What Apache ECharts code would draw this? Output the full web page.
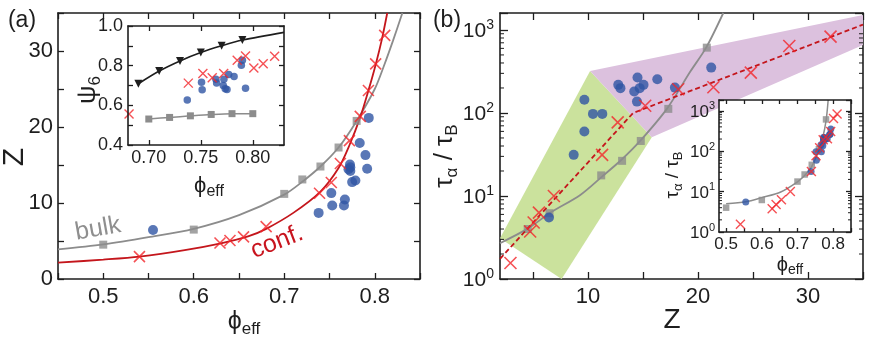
<!DOCTYPE html>
<html>
<head>
<meta charset="utf-8">
<script src="https://cdn.jsdelivr.net/npm/echarts@6/dist/echarts.min.js"></script>
<style>
  html, body { margin: 0; padding: 0; background: #fff; }
  #chart { width: 872px; height: 343px; }
</style>
</head>
<body>
<div id="chart"></div>
<script>
// ---- data ----
// bulk samples (grey squares)
var bulkPhi = [0.50, 0.60, 0.70, 0.72, 0.74, 0.76, 0.78];
var bulkZ = [4.52, 6.5, 11.2, 13.1, 14.8, 17.3, 20.8];
var bulkTau = [4.0, 6.2, 17.7, 26.5, 46, 112, 612];

// confined samples (red crosses)
var confPhi = [0.540, 0.629, 0.640, 0.655, 0.680, 0.739, 0.752, 0.762, 0.772, 0.784, 0.793, 0.801, 0.811];
var confZ = [2.95, 4.74, 5.06, 5.54, 6.9, 11.28, 12.7, 15.2, 18.2, 21.4, 24.8, 28.3, 32.05];
var confTau = [1.56, 3.74, 4.8, 6.3, 10, 31.3, 77, 122, 193, 204, 306, 641, 830];

// blue circles
var samplePhi = [0.555, 0.738, 0.753, 0.766, 0.767, 0.752, 0.7786, 0.775, 0.773, 0.7916, 0.771, 0.773, 0.7726, 0.7897, 0.7834, 0.7934];
var sampleZ = [6.45, 8.7, 9.67, 9.67, 10.45, 11.3, 12.95, 12.75, 14.2, 14.5, 14.45, 14.7, 15.05, 16.3, 17.9, 21.2];
var sampleTau = [5.5, 31.3, 59.7, 144, 97.5, 97.5, 199, 218, 181, 267, 137, 199, 218, 255, 202, 352];

// fitted curves, panel (a)
var bulkFitPhi = [0.45, 0.50, 0.55, 0.60, 0.65, 0.70, 0.72, 0.74, 0.76, 0.78, 0.80, 0.81, 0.82, 0.8305];
var bulkFitZ = [3.9, 4.55, 5.5, 6.6, 8.4, 11.1, 12.8, 14.8, 17.3, 20.8, 25.0, 28.0, 31.3, 35.0];
var confFitPhi = [0.45, 0.50, 0.54, 0.59, 0.63, 0.66, 0.68, 0.71, 0.74, 0.76, 0.772, 0.784, 0.793, 0.801, 0.808, 0.8138];
var confFitZ = [2.15, 2.55, 2.95, 3.8, 4.7, 5.6, 6.6, 8.7, 11.5, 14.6, 17.6, 21.3, 24.8, 28.2, 31.6, 35.0];

// inset (a): psi_6
var psiTriPhi = [0.69, 0.71, 0.73, 0.75, 0.77, 0.79, 0.83];
var psiTri = [0.709, 0.773, 0.824, 0.866, 0.900, 0.929, 0.968];
var psiBulkPhi = [0.70, 0.72, 0.74, 0.76, 0.78, 0.80];
var psiBulk = [0.531, 0.539, 0.547, 0.554, 0.558, 0.558];
var psiConfPhi = [0.681, 0.738, 0.752, 0.761, 0.772, 0.785, 0.793, 0.801, 0.810, 0.821];
var psiConf = [0.556, 0.712, 0.760, 0.739, 0.760, 0.827, 0.849, 0.788, 0.810, 0.847];
var psiSamplePhi = [0.737, 0.7507, 0.7513, 0.7645, 0.7652, 0.7722, 0.7716, 0.7735, 0.7752, 0.7768, 0.782, 0.789, 0.790, 0.793];
var psiSample = [0.627, 0.717, 0.678, 0.731, 0.712, 0.731, 0.700, 0.683, 0.680, 0.756, 0.746, 0.802, 0.827, 0.686];

// panel (b) curves
var bulkTauFitZ = [2, 4.6, 6.5, 9.3, 11.25, 13.07, 14.74, 17.17, 19.3, 20.74, 22.3];
var bulkTauFitTau = [2.7, 4.1, 6.2, 10.3, 17.0, 27.5, 46, 112, 315, 612, 1600];
var confTauFitZ = [2, 14.1, 35];
var confTauFitTau = [1.75, 100, 1160];
var greenBandZ = [2, 7.6, 15.8, 10.19];
var greenBandTau = [3.1, 1, 51, 321];
var purpleBandZ = [10.19, 35, 35, 15.8];
var purpleBandTau = [321, 1510, 660, 51];

// inset (b) curve
var bulkTauFitPhi = [0.5, 0.555, 0.6, 0.653, 0.7, 0.72, 0.74, 0.76, 0.77, 0.78, 0.786];
var bulkTauFitPhiTau = [5.0, 5.6, 7.1, 9.8, 17.5, 25, 42, 105, 200, 560, 1850];

// axes
var aXTicks = [0.45, 0.50, 0.55, 0.60, 0.65, 0.70, 0.75, 0.80, 0.85];
var aXLabels = [0.5, 0.6, 0.7, 0.8];
var aYTicks = [0, 5, 10, 15, 20, 25, 30, 35];
var aYLabels = [0, 10, 20, 30];
var inAXTicks = [0.70, 0.75, 0.80];
var inAYTicks = [0.4, 0.5, 0.6, 0.7, 0.8, 0.9, 1.0];
var inAYLabels = [0.4, 0.6, 0.8, 1.0];
var bXTicks = [5, 10, 15, 20, 25, 30, 35];
var bXLabels = [10, 20, 30];
var inBXTicks = [0.5, 0.55, 0.6, 0.65, 0.7, 0.75, 0.8, 0.85];
var inBXLabels = [0.5, 0.6, 0.7, 0.8];
var minorLogTicks = [2, 3, 4, 5, 6, 7, 8, 9, 20, 30, 40, 50, 60, 70, 80, 90, 200, 300, 400, 500, 600, 700, 800, 900];

var FONT = 'Liberation Sans';
var INK = '#1e1e1e';
var GRAY = '#8c8c8c';
var RED = '#f2262a';
var DARKRED = '#c4161c';
var BLUE = '#2f55a4';
var CROSS = 'path://M0,0L10,10M10,0L0,10';

function zip(a, b) {
    return a.map(function (v, i) { return [v, b[i]]; });
}

function supLabel(v) {
    var e = Math.log10(v);
    var r = Math.round(e);
    if (Math.abs(e - r) > 1e-6) return '';
    return '{b|10}{s|' + r + '}';
}

function supRich(size) {
    return {
        b: { fontSize: size, fontFamily: FONT, color: INK, lineHeight: size + 3, verticalAlign: 'bottom' },
        s: { fontSize: Math.round(size * 0.66), fontFamily: FONT, color: INK, lineHeight: Math.round(size * 0.66), verticalAlign: 'top' }
    };
}

function makeAxis(grid, pos, o) {
    var main = pos === 'bottom' || pos === 'left';
    return {
        type: o.log ? 'log' : 'value',
        logBase: 10,
        gridIndex: grid,
        position: pos,
        min: o.min,
        max: o.max,
        z: o.z || 0,
        axisLine: { show: true, onZero: false, lineStyle: { color: INK, width: 1.6 } },
        axisTick: { show: true, inside: true, length: o.tick, customValues: o.ticks, lineStyle: { color: INK, width: 1.3 } },
        axisLabel: {
            show: main, customValues: o.labels, margin: o.margin, color: INK,
            fontSize: o.font, fontFamily: FONT, formatter: o.fmt, rich: o.rich
        },
        splitLine: { show: false }
    };
}

function minorTicks(xi, yi, xRange, len, z) {
    return {
        type: 'custom', xAxisIndex: xi, yAxisIndex: yi, silent: true, z: z,
        data: minorLogTicks.map(function (v) { return [xRange[0], v]; }),
        renderItem: function (params, api) {
            var v = api.value(1);
            var l = api.coord([xRange[0], v]);
            var r = api.coord([xRange[1], v]);
            var st = { stroke: INK, lineWidth: 1 };
            return {
                type: 'group', children: [
                    { type: 'line', shape: { x1: l[0], y1: l[1], x2: l[0] + len, y2: l[1] }, style: st },
                    { type: 'line', shape: { x1: r[0] - len, y1: r[1], x2: r[0], y2: r[1] }, style: st }
                ]
            };
        }
    };
}

function band(zs, taus, color) {
    return {
        type: 'custom', xAxisIndex: 4, yAxisIndex: 4, silent: true, z: 1,
        data: [[zs[0], taus[0]]],
        renderItem: function (params, api) {
            var pts = zs.map(function (z, i) { return api.coord([z, taus[i]]); });
            return { type: 'polygon', shape: { points: pts }, style: { fill: color } };
        }
    };
}

function lineSeries(xi, data, color, width, z, extra) {
    var s = {
        type: 'line', xAxisIndex: xi, yAxisIndex: xi, data: data, symbol: 'none',
        smooth: 0.3, z: z, silent: true,
        lineStyle: { color: color, width: width }
    };
    return Object.assign(s, extra || {});
}

function scatter(xi, data, symbol, size, color, z, stroke) {
    return {
        type: 'scatter', xAxisIndex: xi, yAxisIndex: xi, data: data, symbol: symbol,
        symbolSize: size, z: z, silent: true,
        itemStyle: stroke ? { color: 'rgba(0,0,0,0)', borderColor: color, borderWidth: stroke } : { color: color }
    };
}

// titles made of pieces [text, size, dy], centred on (x, y)
var ctx2d = document.createElement('canvas').getContext('2d');
function textW(s, size) {
    ctx2d.font = size + 'px "' + FONT + '"';
    return ctx2d.measureText(s).width;
}
function title(x, y, pieces, color, angle) {
    var total = 0;
    pieces.forEach(function (p) { total += textW(p[0], p[1]); });
    var cx = -total / 2;
    var kids = pieces.map(function (p) {
        var el = {
            type: 'text', x: cx, y: p[2],
            style: { text: p[0], fontSize: p[1], fontFamily: FONT, fill: color, align: 'left', verticalAlign: 'middle' }
        };
        cx += textW(p[0], p[1]);
        return el;
    });
    return { type: 'group', x: x, y: y, rotation: (angle || 0) * Math.PI / 180, children: kids, z: 50 };
}

var chart = echarts.init(document.getElementById('chart'));

var f1 = function (v) { return v.toFixed(1); };
var f2 = function (v) { return v.toFixed(2); };
var f0 = function (v) { return String(Math.round(v)); };

var option = {
    animation: false,
    backgroundColor: '#fff',
    textStyle: { fontFamily: FONT },
    grid: [
        { left: 58, top: 13, width: 362, height: 266, containLabel: false, outerBoundsMode: 'none' },
        { left: 128, top: 26, width: 156, height: 119, containLabel: false, outerBoundsMode: 'none', show: true, backgroundColor: '#fff', borderWidth: 0, z: 10 },
        { left: 500, top: 13, width: 363, height: 266, containLabel: false, outerBoundsMode: 'none' },
        { left: 719, top: 100, width: 132, height: 132, containLabel: false, outerBoundsMode: 'none', show: true, backgroundColor: '#fff', borderWidth: 0, z: 10 }
    ],
    xAxis: [
        makeAxis(0, 'bottom', { min: 0.45, max: 0.85, tick: 6, ticks: aXTicks, labels: aXLabels, margin: 7, font: 22, fmt: f1 }),
        makeAxis(0, 'top', { min: 0.45, max: 0.85, tick: 6, ticks: aXTicks }),
        makeAxis(1, 'bottom', { min: 0.68, max: 0.83, tick: 5, ticks: inAXTicks, labels: inAXTicks, margin: 4, font: 18, fmt: f2, z: 15 }),
        makeAxis(1, 'top', { min: 0.68, max: 0.83, tick: 5, ticks: inAXTicks, z: 15 }),
        makeAxis(2, 'bottom', { min: 2, max: 35, tick: 7, ticks: bXTicks, labels: bXLabels, margin: 7, font: 22, fmt: f0 }),
        makeAxis(2, 'top', { min: 2, max: 35, tick: 7, ticks: bXTicks }),
        makeAxis(3, 'bottom', { min: 0.48, max: 0.85, tick: 4, ticks: inBXTicks, labels: inBXLabels, margin: 4, font: 17, fmt: f1, z: 15 }),
        makeAxis(3, 'top', { min: 0.48, max: 0.85, tick: 4, ticks: inBXTicks, z: 15 })
    ],
    yAxis: [
        makeAxis(0, 'left', { min: 0, max: 35, tick: 6, ticks: aYTicks, labels: aYLabels, margin: 5, font: 22, fmt: f0 }),
        makeAxis(0, 'right', { min: 0, max: 35, tick: 6, ticks: aYTicks }),
        makeAxis(1, 'left', { min: 0.4, max: 1.0, tick: 5, ticks: inAYTicks, labels: inAYLabels, margin: 5, font: 18, fmt: f1, z: 15 }),
        makeAxis(1, 'right', { min: 0.4, max: 1.0, tick: 5, ticks: inAYTicks, z: 15 }),
        makeAxis(2, 'left', { log: true, min: 1, max: 1600, tick: 8, margin: 6, font: 21, fmt: supLabel, rich: supRich(21) }),
        makeAxis(2, 'right', { log: true, min: 1, max: 1600, tick: 8 }),
        makeAxis(3, 'left', { log: true, min: 1, max: 1850, tick: 5, margin: 4, font: 17, fmt: supLabel, rich: supRich(17), z: 15 }),
        makeAxis(3, 'right', { log: true, min: 1, max: 1850, tick: 5, z: 15 })
    ],
    series: [
        // (a) main
        lineSeries(0, zip(bulkFitPhi, bulkFitZ), GRAY, 1.8, 2),
        lineSeries(0, zip(confFitPhi, confFitZ), DARKRED, 1.8, 2),
        scatter(0, zip(bulkPhi, bulkZ), 'rect', 8, GRAY, 3),
        scatter(0, zip(samplePhi, sampleZ), 'circle', 10, BLUE, 4),
        scatter(0, zip(confPhi, confZ), CROSS, 11, RED, 5, 1.6),

        // (a) inset
        lineSeries(2, zip(psiTriPhi, psiTri).map(function (p, i) {
            return i < psiTriPhi.length - 1 ? { value: p, symbol: 'triangle', symbolRotate: 180 } : { value: p, symbol: 'none' };
        }), INK, 1.6, 12, { symbolSize: 8, itemStyle: { color: INK }, showSymbol: true }),
        lineSeries(2, zip(psiBulkPhi, psiBulk), GRAY, 1.5, 12, { symbol: 'rect', symbolSize: 7, itemStyle: { color: GRAY }, showSymbol: true }),
        scatter(2, zip(psiSamplePhi, psiSample), 'circle', 7.5, BLUE, 13),
        scatter(2, zip(psiConfPhi, psiConf), CROSS, 9, RED, 14, 1.4),

        // (b) main
        band(greenBandZ, greenBandTau, '#cbe29d'),
        band(purpleBandZ, purpleBandTau, '#dcc1de'),
        minorTicks(4, 4, [2, 35], 4, 3),
        lineSeries(4, zip(bulkTauFitZ, bulkTauFitTau), GRAY, 1.8, 2),
        scatter(4, zip(bulkZ, bulkTau), 'rect', 8, GRAY, 3),
        scatter(4, zip(sampleZ, sampleTau), 'circle', 10, BLUE, 4),
        lineSeries(4, zip(confTauFitZ, confTauFitTau), DARKRED, 1.8, 5, { smooth: false, lineStyle: { color: DARKRED, width: 1.8, type: [5, 3] } }),
        scatter(4, zip(confZ, confTau), CROSS, 12, RED, 6, 1.6),

        // (b) inset
        minorTicks(6, 6, [0.48, 0.85], 3, 16),
        lineSeries(6, zip(bulkTauFitPhi, bulkTauFitPhiTau), GRAY, 1.5, 12),
        scatter(6, zip(bulkPhi, bulkTau), 'rect', 6.5, GRAY, 13),
        scatter(6, zip(samplePhi, sampleTau), 'circle', 7, BLUE, 14),
        scatter(6, zip(confPhi, confTau), CROSS, 9, RED, 15, 1.4)
    ],
    graphic: [
        title(22, 21, [['(a)', 23, 0]], INK),
        title(447, 21, [['(b)', 23, 0]], INK),
        title(15, 157, [['Z', 30, 0]], INK, 90),
        title(244, 322, [['ϕ', 25, 0], ['eff', 17, 7]], INK),
        title(209, 186, [['ϕ', 22, 0], ['eff', 16, 6]], INK),
        title(88, 90, [['ψ', 26, 0], ['6', 17, 7]], INK, 90),
        title(672, 320, [['Z', 28, 0]], INK),
        title(445, 156, [['τ', 26, 0], ['α', 17, 7], [' / ', 26, 0], ['τ', 26, 0], ['B', 17, 7]], INK, 90),
        title(790, 265, [['ϕ', 20, 0], ['eff', 14, 5]], INK),
        title(673, 175, [['τ', 19, 0], ['α', 13, 5], [' / ', 19, 0], ['τ', 19, 0], ['B', 13, 5]], INK, 90),
        title(98, 229, [['bulk', 25, 0]], '#8f8f8f', 10),
        title(277, 242, [['conf.', 25, 0]], '#c8141e', 21)
    ]
};

chart.setOption(option);
</script>
</body>
</html>
